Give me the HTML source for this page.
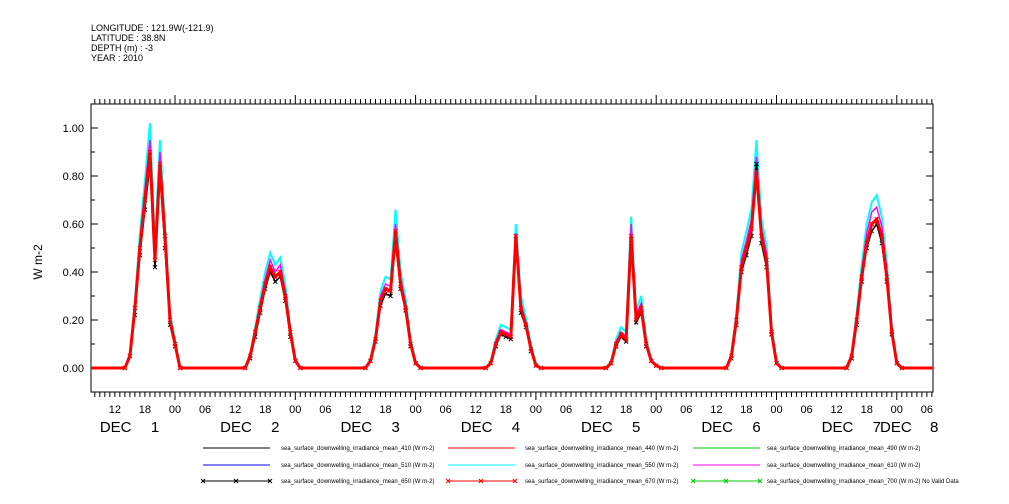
<!DOCTYPE html>
<html><head><meta charset="utf-8"><style>
body{margin:0;background:#fff;}
svg{display:block;font-family:"Liberation Sans",sans-serif;}
</style></head><body>
<svg id="chart" width="1009" height="504" viewBox="0 0 1009 504">
<g font-size="9" fill="#000">
<text x="91" y="31">LONGITUDE : 121.9W(-121.9)</text>
<text x="91" y="41">LATITUDE : 38.8N</text>
<text x="91" y="51">DEPTH (m) : -3</text>
<text x="91" y="61">YEAR : 2010</text>
</g>
<text x="42" y="262" font-size="12" text-anchor="middle" transform="rotate(-90 42 262)">W m-2</text>
<g id="axes"></g>
<g id="series"></g>
<g id="legend" font-size="6"></g>
</svg>
<script>
// Data: hourly values from 14h (day d) through 01h (day d+1), days Dec 1..7
const dayLabels = ["1","2","3","4","5","6","7","8"];
const yTicks = [0,0.2,0.4,0.6,0.8,1.0];
const yTickLabels = ["0.00","0.20","0.40","0.60","0.80","1.00"];
const hourTickLabels = ["00","06","12","18"];
const s410 = [[0,0.05,0.22,0.47,0.66,0.85,0.42,0.8,0.5,0.18,0.09,0],[0,0.04,0.13,0.23,0.33,0.4,0.36,0.38,0.28,0.13,0.03,0],[0,0.03,0.11,0.26,0.31,0.3,0.52,0.33,0.24,0.09,0.02,0],[0,0.02,0.09,0.14,0.13,0.12,0.55,0.23,0.17,0.07,0.01,0],[0,0.02,0.09,0.13,0.11,0.52,0.19,0.23,0.09,0.03,0.01,0],[0,0.04,0.18,0.4,0.47,0.55,0.85,0.52,0.42,0.14,0.02,0],[0,0.04,0.18,0.36,0.5,0.57,0.6,0.52,0.36,0.14,0.02,0]];
const s550 = [[0,0.06,0.28,0.56,0.78,1.02,0.52,0.95,0.6,0.23,0.12,0],[0,0.06,0.17,0.29,0.4,0.48,0.43,0.46,0.35,0.17,0.04,0],[0,0.04,0.14,0.32,0.38,0.37,0.66,0.4,0.29,0.12,0.03,0],[0,0.03,0.12,0.18,0.17,0.16,0.6,0.3,0.21,0.1,0.02,0],[0,0.03,0.12,0.17,0.15,0.63,0.24,0.3,0.12,0.04,0.01,0],[0,0.06,0.23,0.48,0.57,0.66,0.95,0.62,0.51,0.18,0.03,0],[0,0.06,0.23,0.43,0.6,0.69,0.72,0.63,0.44,0.18,0.03,0]];
const s610 = [[0,0.05,0.26,0.53,0.74,0.95,0.48,0.9,0.57,0.21,0.11,0],[0,0.05,0.16,0.27,0.37,0.45,0.4,0.43,0.32,0.16,0.03,0],[0,0.03,0.13,0.3,0.35,0.34,0.6,0.37,0.27,0.11,0.02,0],[0,0.02,0.11,0.16,0.15,0.14,0.56,0.27,0.19,0.09,0.01,0],[0,0.02,0.11,0.15,0.13,0.6,0.22,0.27,0.11,0.03,0.01,0],[0,0.05,0.21,0.45,0.53,0.62,0.88,0.58,0.48,0.16,0.02,0],[0,0.05,0.21,0.4,0.56,0.65,0.67,0.59,0.41,0.16,0.02,0]];
const s670 = [[0,0.05,0.25,0.5,0.7,0.9,0.45,0.85,0.55,0.2,0.1,0],[0,0.05,0.15,0.25,0.35,0.42,0.38,0.4,0.3,0.15,0.03,0],[0,0.03,0.12,0.28,0.33,0.32,0.57,0.35,0.25,0.1,0.02,0],[0,0.02,0.1,0.15,0.14,0.13,0.55,0.25,0.18,0.08,0.01,0],[0,0.02,0.1,0.14,0.12,0.55,0.2,0.25,0.1,0.03,0.01,0],[0,0.05,0.2,0.42,0.5,0.58,0.82,0.55,0.45,0.15,0.02,0],[0,0.05,0.2,0.38,0.52,0.6,0.62,0.55,0.38,0.15,0.02,0]];
const legendNames = ["sea_surface_downwelling_irradiance_mean_410 (W m-2)","sea_surface_downwelling_irradiance_mean_440 (W m-2)","sea_surface_downwelling_irradiance_mean_490 (W m-2)","sea_surface_downwelling_irradiance_mean_510 (W m-2)","sea_surface_downwelling_irradiance_mean_550 (W m-2)","sea_surface_downwelling_irradiance_mean_610 (W m-2)","sea_surface_downwelling_irradiance_mean_650 (W m-2)","sea_surface_downwelling_irradiance_mean_670 (W m-2)","sea_surface_downwelling_irradiance_mean_700 (W m-2) No Valid Data"];
const legendColors = ["#000","#f00","#0c0","#00f","#0ff","#f0f","#000","#f00","#0c0"];

const NS="http://www.w3.org/2000/svg";
const X0=91,X1=933,Y0=104,Y1=392;
const DAY=120.3, DEC1=175-DAY;
const xh = h => DEC1 + h*DAY/24;
const yv = v => 368 - v*240;
function mk(tag,attrs,parent){const e=document.createElementNS(NS,tag);for(const k in attrs)e.setAttribute(k,attrs[k]);parent.appendChild(e);return e;}
const axes=document.getElementById('axes');
const box=mk('rect',{x:X0,y:Y0,width:X1-X0,height:Y1-Y0,fill:'none',stroke:'#000','stroke-width':1},axes);


for(let i=0;i<=11;i++){const v=-0.1+i*0.1;const y=yv(v);
 const major=Math.abs(Math.round(v*10)%2)===0;
 mk('line',{x1:X0,x2:X0+(major?7:4),y1:y,y2:y,stroke:'#000'},axes);
 mk('line',{x1:X1,x2:X1-(major?7:4),y1:y,y2:y,stroke:'#000'},axes);}
yTicks.forEach((v,i)=>{const t=mk('text',{x:84,y:yv(v)+4,'text-anchor':'end','font-size':11},axes);t.textContent=yTickLabels[i];
 
 });
for(let h=0;h<=8*24;h++){const x=xh(h);if(x<X0-0.1||x>X1+0.1)continue;
 const major=h%24===0;
 mk('line',{x1:x,x2:x,y1:Y1,y2:Y1+(major?8:5),stroke:'#000'},axes);
 mk('line',{x1:x,x2:x,y1:Y0,y2:Y0-(major?9:5),stroke:'#000'},axes);
 if(h%6===0){const t=mk('text',{x:x,y:413,'text-anchor':'middle','font-size':11},axes);t.textContent=hourTickLabels[(h%24)/6];
  
  }}
dayLabels.forEach((d,i)=>{
 let x=xh(i*24+12)-15;
 if(i===7) x=880;
 const t=mk('text',{x:x,y:432,'font-size':15},axes);t.textContent="DEC";
 
 
 const n=mk('text',{x:x+(i===7?50:51),y:432,'font-size':15},axes);n.textContent=d;
 
 });
const sg=document.getElementById('series');
function pts(arr){const p=[[X0,yv(0)]];arr.forEach((day,d)=>day.forEach((v,k)=>p.push([xh(d*24+14+k),yv(v)])));p.push([X1,yv(0)]);return p;}
function draw(arr,color,name,w,marks){const p=pts(arr);
 const l=mk('polyline',{points:p.map(q=>q.join(',')).join(' '),fill:'none',stroke:color,'stroke-width':w},sg);
 
 
 if(marks){p.slice(1,-1).forEach(q=>{const m=mk('path',{d:`M${q[0]-2},${q[1]-2}L${q[0]+2},${q[1]+2}M${q[0]-2},${q[1]+2}L${q[0]+2},${q[1]-2}`,stroke:marks,'stroke-width':1},sg);
  
  });}}
draw(s550,'#00f','series-510',1);
draw(s550,'#0ff','series-550',2);
draw(s610,'#f0f','series-610',1.5);
draw(s410,'#000','series-410',1.5);
draw(s410,'#000','series-650',1,'#000');
draw(s670,'#f00','series-440',2);
draw(s670,'#f00','series-670',3,'#f00');
const lg=document.getElementById('legend');
const cols=[[203,281],[448,525],[693,767]],rows=[448,465,481];
legendNames.forEach((n,i)=>{const c=cols[i%3],y=rows[Math.floor(i/3)];
 const l=mk('line',{x1:c[0],x2:c[0]+67,y1:y,y2:y,stroke:legendColors[i],'stroke-width':1},lg);
 
 
 if(i>=6){[0,33,67].forEach(dx=>{const m=mk('path',{d:`M${c[0]+dx-2},${y-2}L${c[0]+dx+2},${y+2}M${c[0]+dx-2},${y+2}L${c[0]+dx+2},${y-2}`,stroke:legendColors[i]},lg);
  
  });}
 const t=mk('text',{x:c[1],y:y+2},lg);t.textContent=n;
 
 });
</script>
</body></html>
